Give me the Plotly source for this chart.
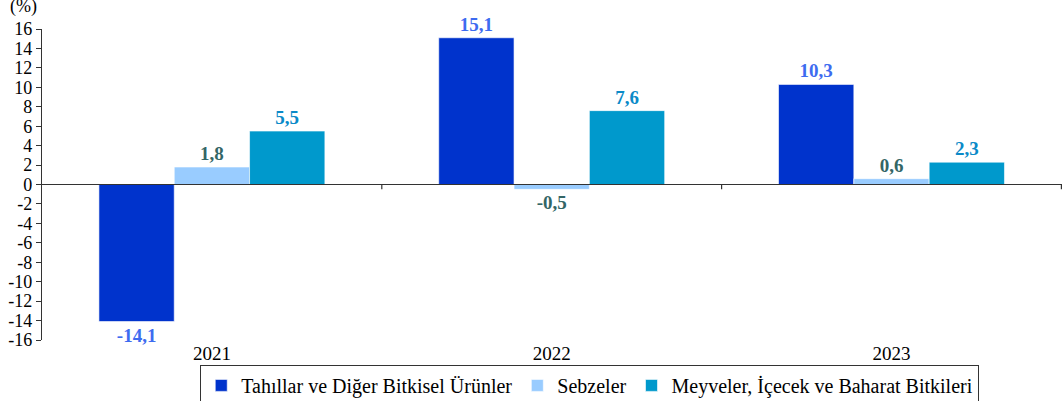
import plotly.graph_objects as go

years = ["2021", "2022", "2023"]
series_names = ["Tahıllar ve Diğer Bitkisel Ürünler", "Sebzeler", "Meyveler, İçecek ve Baharat Bitkileri"]
tahillar = [-14.1, 15.1, 10.3]
sebzeler = [1.8, -0.5, 0.6]
meyveler = [5.5, 7.6, 2.3]
y_ticks = list(range(-16, 17, 2))

SERIF = "Liberation Serif"
bar_colors = ["#0033CC", "#99CCFF", "#0099CC"]
label_colors = ["#3D6BF0", "#336666", "#0A8AC8"]

fig = go.Figure()
for name, vals, bc, lc in zip(series_names, [tahillar, sebzeler, meyveler], bar_colors, label_colors):
    fig.add_trace(go.Bar(
        x=years, y=vals, name=name, marker=dict(color=bc, line=dict(width=0.6, color="white")),
        text=["<b>" + f"{v:.1f}".replace(".", ",") + "</b>" for v in vals],
        textposition="outside", cliponaxis=False,
        textfont=dict(family=SERIF, size=19, color=lc),
    ))

# zero line with tick marks at category boundaries
fig.add_shape(type="line", xref="paper", yref="y", x0=0, x1=1, y0=0, y1=0,
              line=dict(color="#333333", width=1.2))
for b in [0.5, 1.5, 2.5]:
    fig.add_shape(type="line", xref="x", yref="y", x0=b, x1=b, y0=0, y1=-0.5,
                  line=dict(color="#333333", width=1.2))

fig.add_annotation(text="(%)", xref="paper", yref="paper", x=-0.033, y=1.032,
                   xanchor="left", yanchor="bottom", showarrow=False,
                   font=dict(family=SERIF, size=18, color="black"))

fig.update_layout(
    width=1064, height=401,
    margin=dict(l=42, r=2, t=29, b=61, autoexpand=False),
    paper_bgcolor="white", plot_bgcolor="white",
    barmode="group", bargap=0.335, bargroupgap=0,
    font=dict(family=SERIF, size=18, color="black"),
    showlegend=True,
    legend=dict(orientation="h", x=0.537, xanchor="center", y=-0.08, yanchor="top",
                bordercolor="#333333", borderwidth=1,
                font=dict(family=SERIF, size=20, color="black"),
                itemwidth=30, tracegroupgap=0),
    xaxis=dict(showline=False, ticks="", showgrid=False, zeroline=False, automargin=False,
               tickfont=dict(family=SERIF, size=19, color="black")),
    yaxis=dict(range=[-16, 16], tickvals=y_ticks, ticktext=[str(t) for t in y_ticks],
               showline=True, linecolor="#333333", linewidth=1.2, automargin=False,
               ticks="outside", ticklen=5, tickcolor="#333333",
               showgrid=False, zeroline=False,
               tickfont=dict(family=SERIF, size=18, color="black")),
)

fig.write_html("out.html", config={"displayModeBar": False},
               post_script="document.body.style.margin='0';")
